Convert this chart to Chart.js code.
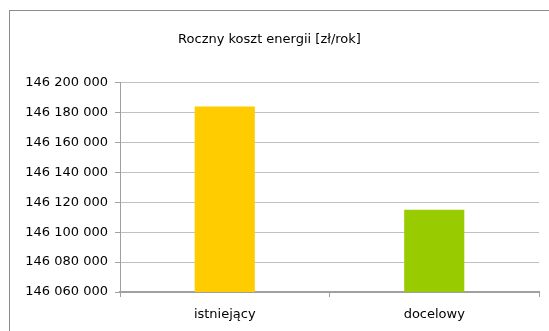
<!DOCTYPE html>
<html lang="pl">
<head>
<meta charset="utf-8">
<title>Roczny koszt energii</title>
<script src="https://cdn.jsdelivr.net/npm/chart.js@4.4.1/dist/chart.umd.min.js"></script>
<style>
  html, body {
    margin: 0;
    padding: 0;
    width: 549px;
    height: 331px;
    overflow: hidden;
    background: #ffffff;
  }
  #frame {
    position: absolute;
    left: 9px;
    top: 10px;
    width: 700px;
    height: 500px;
    border: 1px solid #8c8c8c;
    box-sizing: border-box;
  }
  #chartBox {
    position: absolute;
    left: 0;
    top: 0;
    width: 549px;
    height: 331px;
  }
</style>
</head>
<body>
<div id="frame"></div>
<div id="chartBox"><canvas id="energyChart"></canvas></div>
<script>
const categories = ["istniejący", "docelowy"];
const costValues = [146184000, 146115000];
const barColors = ["#FFCC00", "#99CC00"];

const yMin = 146060000;
const yMax = 146200000;
const yStep = 20000;

let energyChart;

// 146200000 -> "146 200 000"
function formatThousands(value) {
  return Math.round(value)
    .toString()
    .replace(/\B(?=(\d{3})+(?!\d))/g, " ");
}

function initChart() {
  const ctx = document.getElementById("energyChart").getContext("2d");
  if (energyChart) energyChart.destroy();

  Chart.defaults.font.family = "'DejaVu Sans', Verdana, sans-serif";
  Chart.defaults.font.size = 13;
  Chart.defaults.color = "#000000";

  energyChart = new Chart(ctx, {
    type: "bar",
    data: {
      labels: categories,
      datasets: [
        {
          label: "Roczny koszt energii [zł/rok]",
          data: costValues,
          backgroundColor: barColors,
          borderWidth: 0,
          categoryPercentage: 1,
          barPercentage: 0.287,
        },
      ],
    },
    options: {
      responsive: true,
      maintainAspectRatio: false,
      animation: false,
      layout: {
        padding: { left: 0, right: 10, top: 0, bottom: 0 },
      },
      plugins: {
        legend: { display: false },
        tooltip: { enabled: false },
        title: {
          display: true,
          text: "Roczny koszt energii [zł/rok]",
          color: "#000000",
          font: { size: 13, weight: "normal" },
          padding: { top: 32, bottom: 35 },
        },
      },
      scales: {
        y: {
          min: yMin,
          max: yMax,
          afterFit: (scale) => {
            scale.width = 120;
          },
          ticks: {
            stepSize: yStep,
            padding: 7,
            color: "#000000",
            callback: (value) => formatThousands(value),
          },
          grid: {
            color: "#c0c0c0",
            tickColor: "#a0a0a0",
            tickLength: 5,
          },
          border: { color: "#a0a0a0", width: 1 },
        },
        x: {
          afterFit: (scale) => {
            scale.height = 39;
          },
          ticks: {
            padding: 10,
            color: "#000000",
          },
          grid: {
            drawOnChartArea: false,
            tickColor: "#a0a0a0",
            tickLength: 5,
          },
          border: { color: "#a0a0a0", width: 2 },
        },
      },
    },
  });
}

document.addEventListener("DOMContentLoaded", initChart);
</script>
</body>
</html>
